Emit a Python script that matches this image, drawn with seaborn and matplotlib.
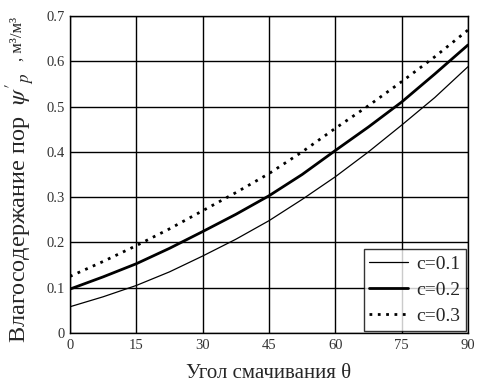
"""
Влагосодержание пор в зависимости от угла смачивания
"""
import numpy as np
import pandas as pd
import matplotlib
matplotlib.use('Agg')
import matplotlib.pyplot as plt
import seaborn as sns

# данные
theta = [0, 7.5, 15, 22.5, 30, 37.5, 45, 52.5, 60, 67.5, 75, 82.5, 90]
psi_c01 = [0.058, 0.080, 0.105, 0.135, 0.170, 0.207, 0.248, 0.295, 0.345, 0.400, 0.459, 0.520, 0.588]
psi_c02 = [0.097, 0.124, 0.153, 0.187, 0.224, 0.262, 0.303, 0.350, 0.403, 0.455, 0.510, 0.572, 0.636]
psi_c03 = [0.125, 0.158, 0.193, 0.230, 0.270, 0.310, 0.352, 0.400, 0.452, 0.502, 0.555, 0.610, 0.669]
labels = ['c=0.1', 'c=0.2', 'c=0.3']
x_ticks = [0, 15, 30, 45, 60, 75, 90]
y_ticks = [0, 0.1, 0.2, 0.3, 0.4, 0.5, 0.6, 0.7]
y_tick_labels = ['0', '0.1', '0.2', '0.3', '0.4', '0.5', '0.6', '0.7']

sns.set_theme(style="white")
plt.rcParams['font.family'] = ['Liberation Serif', 'DejaVu Serif']
plt.rcParams['mathtext.fontset'] = 'stix'

df = pd.DataFrame({'theta': theta, labels[0]: psi_c01, labels[1]: psi_c02, labels[2]: psi_c03})

fig = plt.figure(figsize=(4.78, 3.83), dpi=100)
ax = fig.add_axes([0.1464, 0.1305, 0.8326, 0.8277])

styles = [dict(linewidth=0.9, linestyle='-'),
          dict(linewidth=2.0, linestyle='-'),
          dict(linewidth=2.0, linestyle=(0, (1, 2)))]
for lab, st in zip(labels, styles):
    sns.lineplot(data=df, x='theta', y=lab, color='black', label=lab, ax=ax, **st)

ax.set_xlim(0, 90)
ax.set_ylim(0, 0.7)
ax.set_xticks(x_ticks)
ax.set_yticks(y_ticks)
ax.set_yticklabels(y_tick_labels)
ax.tick_params(axis='both', length=0, labelsize=10.5, labelcolor='#333333', pad=4)
ax.grid(True, color='black', linewidth=1.0)
for s in ax.spines.values():
    s.set_color('black')
    s.set_linewidth(1.0)

ax.set_xlabel('Угол смачивания θ', fontsize=15, labelpad=9)
ax.set_ylabel('')

# подпись оси Y: основной текст крупнее, единицы мельче
fig.text(0.042, 0.104, "Влагосодержание пор  $\\psi'_p$", rotation=90,
         fontsize=17.5, ha='center', va='bottom')
fig.text(0.036, 0.956, ", м³/м³", rotation=90, fontsize=12, ha='center', va='top')

leg = ax.legend(loc='lower right', fontsize=14, frameon=True, fancybox=False,
                handlelength=2.0, handletextpad=0.4, borderaxespad=0.1,
                borderpad=0.3, labelspacing=0.45)
leg.get_frame().set_edgecolor('black')
leg.get_frame().set_linewidth(1.0)

fig.savefig('out.png', dpi=100)
plt.close(fig)
